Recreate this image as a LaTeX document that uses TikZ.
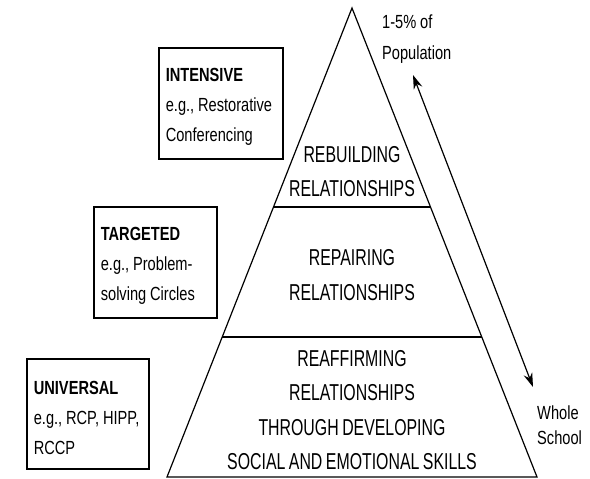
\documentclass[tikz,border=0pt]{standalone}
\usepackage{fontspec}
\setmainfont{Liberation Sans}[FakeStretch=0.77, WordSpace=0.95]
\newfontfamily\pyrfont{Liberation Sans}[FakeStretch=0.69, WordSpace=0.8]
\usetikzlibrary{arrows.meta,calc}

\tikzset{
    level/.style={align=center, font=\pyrfont\fontsize{23}{34.5}\selectfont},
    tier/.style={draw, line width=1.6pt, align=flush left, anchor=north west, inner sep=7pt,
        font=\fontsize{19}{30}\selectfont},
    side/.style={align=flush left, anchor=west, inner sep=0pt}
}

\begin{document}
\begin{tikzpicture}[x=1pt,y=-1pt]
            \useasboundingbox (0,0) rectangle (590,479);

            % Pyramid
            \coordinate (apex) at (352,8);
            \coordinate (bl) at (167,477);
            \coordinate (br) at (537,477);
            \draw[line width=1.2pt, line join=miter] (apex) -- (bl) -- (br) -- cycle;
            \draw[line width=1.6pt] ($(apex)!0.4243!(bl)$) -- ($(apex)!0.4243!(br)$);
            \draw[line width=1.6pt] ($(apex)!0.7015!(bl)$) -- ($(apex)!0.7015!(br)$);

            \node[level] (rebuild) at (352,171.5) {REBUILDING\\RELATIONSHIPS};
            \node[level] (repair)  at (352,275)   {REPAIRING\\RELATIONSHIPS};
            \node[level] (reaffirm) at (352,410)  {REAFFIRMING\\RELATIONSHIPS\\THROUGH DEVELOPING\\SOCIAL AND EMOTIONAL SKILLS};

            % Tiers
            \node[tier, text width=110pt, minimum height=111pt] (intensive) at (158,47)
                {\strut\textbf{INTENSIVE}\\e.g., Restorative\\Conferencing};
            \node[tier, text width=109pt, minimum height=111pt] (targeted) at (93,206)
                {\strut\textbf{TARGETED}\\e.g., Problem-\\solving Circles};
            \node[tier, text width=108pt, minimum height=110pt] (universal) at (26,358)
                {\strut\textbf{UNIVERSAL}\\e.g., RCP, HIPP,\\RCCP};

            % Population arrow
            \node[side, font=\fontsize{19}{31}\selectfont] (few) at (382,39.5) {1-5\% of\\Population};
            \node[side, font=\fontsize{19}{25}\selectfont] (all) at (537,425.5) {Whole\\School};
            \coordinate (top) at (413,75);
            \coordinate (bottom) at (533,387);
            \draw[{Stealth[length=14pt,width=9pt]}-{Stealth[length=14pt,width=9pt]}, line width=1.2pt] (top) -- (bottom);
        \end{tikzpicture}
\end{document}
